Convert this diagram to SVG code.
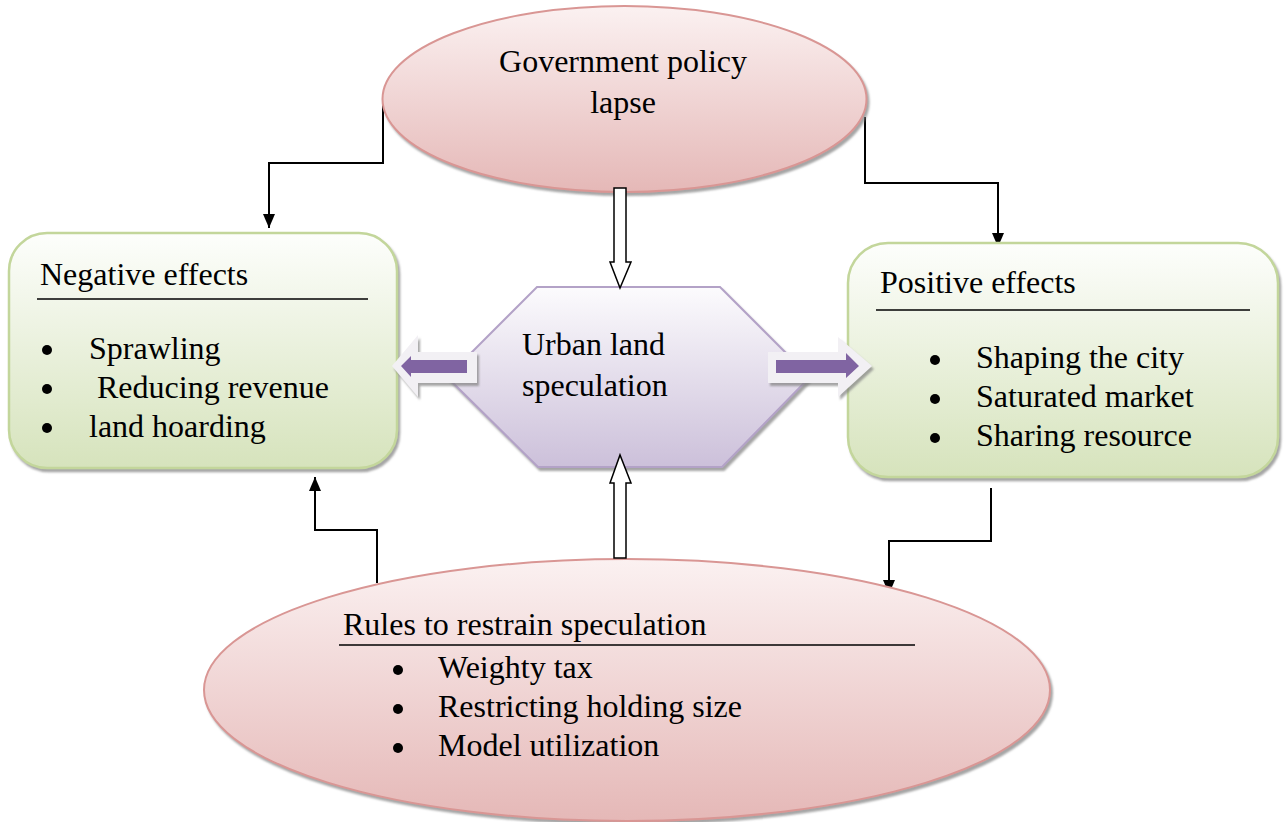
<svg xmlns="http://www.w3.org/2000/svg" width="1285" height="822" viewBox="0 0 1285 822">
<defs>
<linearGradient id="pink" x1="0" y1="0" x2="0" y2="1"><stop offset="0" stop-color="#fbf1f1"/><stop offset="1" stop-color="#e5b8b7"/></linearGradient>
<linearGradient id="green" x1="0" y1="0" x2="0" y2="1"><stop offset="0" stop-color="#fdfefc"/><stop offset="1" stop-color="#d6e3bc"/></linearGradient>
<linearGradient id="lav" x1="0" y1="0" x2="0" y2="1"><stop offset="0" stop-color="#fcfbfd"/><stop offset="1" stop-color="#ccc0da"/></linearGradient>
<filter id="sh" x="-10%" y="-10%" width="125%" height="130%"><feDropShadow dx="2" dy="3" stdDeviation="1.2" flood-color="#7f7f7f" flood-opacity="0.7"/></filter>
<marker id="ah" viewBox="0 0 14 12" refX="14" refY="6" markerWidth="14" markerHeight="12" markerUnits="userSpaceOnUse" orient="auto"><path d="M0,0 L14,6 L0,12 z" fill="#000"/></marker>
</defs>
<style>
text{font-family:"Liberation Serif","Times New Roman",serif;font-size:32px;fill:#000}
.pk{fill:url(#pink);stroke:#d99694;stroke-width:2;filter:url(#sh)}
.gr{fill:url(#green);stroke:#c3d69b;stroke-width:2.5;filter:url(#sh)}
.lv{fill:url(#lav);stroke:#b3a2c7;stroke-width:2;filter:url(#sh)}
.ul{stroke:#000;stroke-width:1.3}
.bu{fill:#000}
.cn{fill:none;stroke:#000;stroke-width:2;marker-end:url(#ah)}
.ho{fill:#fff;stroke:#000;stroke-width:1.5}
.po{fill:#f2f0f4;filter:url(#sh)}
.pi{fill:#8064a2}
</style>
<g id="connectors">
<path class="cn" d="M383,98 V163 H269 V228"/>
<path class="cn" d="M865,117 V183 H998 V247"/>
<path class="cn" d="M377,583 V530 H315 V477"/>
<path class="cn" d="M991,488 V541 H889 V594"/>
</g>
<g id="gov">
<ellipse class="pk" cx="624.5" cy="99" rx="242" ry="93"/>
<text x="623" y="72" text-anchor="middle">Government policy</text>
<text x="623" y="113" text-anchor="middle">lapse</text>
</g>
<g id="negative">
<rect class="gr" x="9" y="233" width="388" height="235" rx="38"/>
<text x="40" y="285">Negative effects</text>
<line class="ul" x1="37" y1="299" x2="368" y2="299"/>
<circle class="bu" cx="47" cy="350" r="5"/><text x="89" y="359">Sprawling</text>
<circle class="bu" cx="47" cy="389" r="5"/><text x="97" y="398">Reducing revenue</text>
<circle class="bu" cx="47" cy="428" r="5"/><text x="89" y="437">land hoarding</text>
</g>
<g id="positive">
<rect class="gr" x="848" y="243" width="430" height="234" rx="40"/>
<text x="880" y="293">Positive effects</text>
<line class="ul" x1="876" y1="310" x2="1250" y2="310"/>
<circle class="bu" cx="935" cy="360" r="5"/><text x="976" y="368">Shaping the city</text>
<circle class="bu" cx="935" cy="399" r="5"/><text x="976" y="407">Saturated market</text>
<circle class="bu" cx="935" cy="438" r="5"/><text x="976" y="446">Sharing resource</text>
</g>
<g id="rules">
<ellipse class="pk" cx="627" cy="690" rx="423" ry="131"/>
<text x="343" y="635">Rules to restrain speculation</text>
<line class="ul" x1="339" y1="645" x2="915" y2="645"/>
<circle class="bu" cx="398" cy="670" r="5"/><text x="438" y="678">Weighty tax</text>
<circle class="bu" cx="398" cy="709" r="5"/><text x="438" y="717">Restricting holding size</text>
<circle class="bu" cx="398" cy="748" r="5"/><text x="438" y="756">Model utilization</text>
</g>
<g id="urban">
<polygon class="lv" points="537,287 720,287 810,377 722,467 538,467 447,377"/>
<text x="522" y="355">Urban land</text>
<text x="522" y="396">speculation</text>
</g>
<g id="arrows">
<path class="ho" d="M614,188 V262 H610 L620,288 L631,262 H626 V188 Z"/>
<path class="ho" d="M614,558 V483 H610 L620,455 L631,483 H626 V558 Z"/>
<path class="po" d="M392,366 L418,335 V352 H477 V383 H418 V397 Z"/>
<path class="pi" d="M401,366 L411,356 V360 H467 V373 H411 V377 Z"/>
<path class="po" d="M872,366 L838,337 V352 H768 V383 H838 V397 Z"/>
<path class="pi" d="M859,366 L846,353 V360 H776 V373 H846 V378 Z"/>
</g>
</svg>
